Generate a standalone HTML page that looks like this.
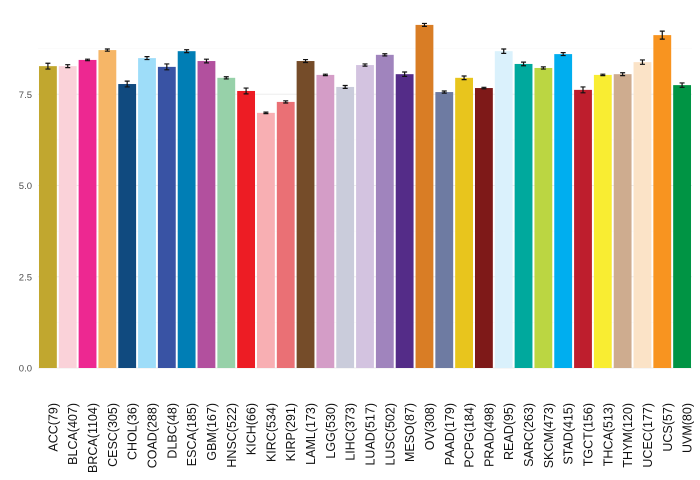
<!DOCTYPE html>
<html><head><meta charset="utf-8"><style>
html,body{margin:0;padding:0;background:#fff;}
svg{display:block;font-family:"Liberation Sans",sans-serif;}
</style></head><body>
<svg id="chart" width="700" height="480"></svg>
<script>
const categories=["ACC(79)","BLCA(407)","BRCA(1104)","CESC(305)","CHOL(36)","COAD(288)","DLBC(48)","ESCA(185)","GBM(167)","HNSC(522)","KICH(66)","KIRC(534)","KIRP(291)","LAML(173)","LGG(530)","LIHC(373)","LUAD(517)","LUSC(502)","MESO(87)","OV(308)","PAAD(179)","PCPG(184)","PRAD(498)","READ(95)","SARC(263)","SKCM(473)","STAD(415)","TGCT(156)","THCA(513)","THYM(120)","UCEC(177)","UCS(57)","UVM(80)"];
const values=[8.27,8.27,8.44,8.71,7.78,8.49,8.25,8.68,8.41,7.95,7.59,6.99,7.29,8.41,8.03,7.70,8.30,8.58,8.05,9.40,7.56,7.95,7.67,8.68,8.33,8.22,8.60,7.62,8.03,8.05,8.38,9.12,7.75];
const errors=[0.08,0.04,0.02,0.03,0.08,0.04,0.08,0.04,0.05,0.03,0.08,0.02,0.03,0.04,0.02,0.04,0.03,0.03,0.06,0.04,0.03,0.05,0.02,0.06,0.05,0.03,0.04,0.08,0.02,0.04,0.06,0.11,0.06];
const colors=["#C1A72F","#FAD2D9","#ED2891","#F6B667","#104A7F","#9EDDF9","#3953A4","#007EB5","#B2509E","#97D1A9","#ED1C24","#F8AFB3","#EA7075","#754C29","#D49DC7","#CACCDB","#D3C3E0","#A084BD","#542C88","#D97D25","#6E7BA2","#E8C51D","#7E1918","#DAF1FC","#00A99D","#BBD642","#00AEEF","#BE1E2D","#F9ED32","#CEAC8F","#FBE3C7","#F89420","#009444"];
const yTicks=[0,2.5,5,7.5];
const yTickLabels=["0.0","2.5","5.0","7.5"];
const minorTicks=[1.25,3.75,6.25,8.75];

const NS="http://www.w3.org/2000/svg";
const svg=document.getElementById('chart');
const plotL=38,plotR=692,y0=368,pxPerUnit=36.5;
const y=v=>y0-v*pxPerUnit;
const band=(plotR-plotL)/categories.length;
const barW=band*0.9;
const xc=i=>plotL+band*(i+0.5);
function mk(tag,attrs){const e=document.createElementNS(NS,tag);for(const k in attrs)e.setAttribute(k,attrs[k]);svg.appendChild(e);return e;}

minorTicks.forEach(t=>{
  const l=mk('line',{x1:plotL,x2:plotR,y1:y(t),y2:y(t),stroke:'#f7f7f7','stroke-width':0.6});
  
  
});
yTicks.forEach((t,i)=>{
  const l=mk('line',{x1:plotL,x2:plotR,y1:y(t),y2:y(t),stroke:'#ededed','stroke-width':1});
  
  
  const tx=mk('text',{x:32,y:y(t)+3.5,'text-anchor':'end','font-size':9.5,fill:'#4d4d4d'});
  tx.textContent=yTickLabels[i];
  
  
});
categories.forEach((c,i)=>{
  const r=mk('rect',{x:xc(i)-barW/2,y:y(values[i]),width:barW,height:y0-y(values[i]),fill:colors[i]});
  
  
  const hi=y(values[i]+errors[i]),lo=y(values[i]-errors[i]);
  const g=mk('path',{d:`M${xc(i)-2.5},${hi}H${xc(i)+2.5}M${xc(i)},${hi}V${lo}M${xc(i)-2.5},${lo}H${xc(i)+2.5}`,stroke:'#111',fill:'none','stroke-width':1.2});
  
  
  const tx=mk('text',{x:0,y:0,'text-anchor':'end','font-size':12.5,fill:'#111',transform:`translate(${xc(i)+9.5},403) rotate(-90)`});
  tx.textContent=c;
  
  
});
</script>
</body></html>
